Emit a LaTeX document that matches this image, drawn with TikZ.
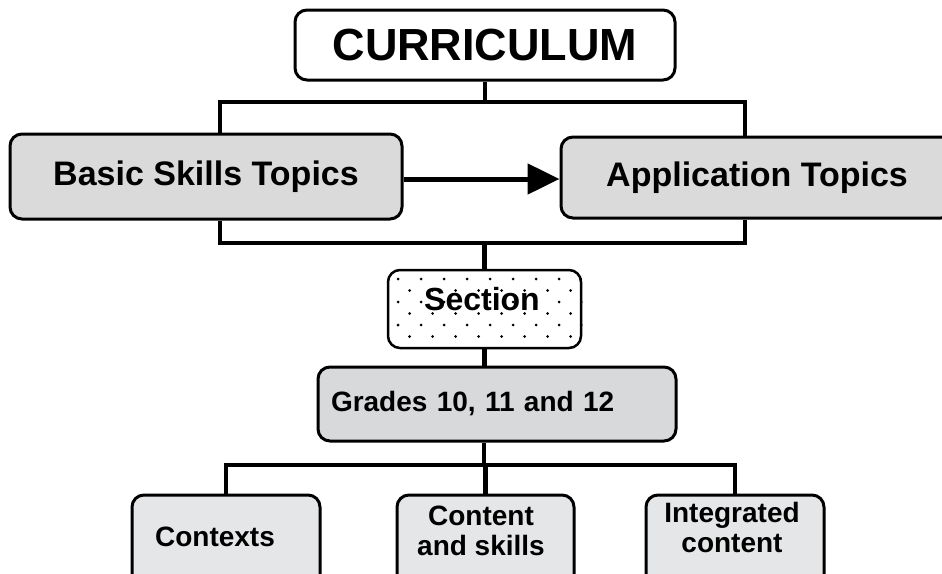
\documentclass[tikz,border=0pt]{standalone}
\usepackage{fontspec}
\setmainfont{Liberation Sans}
\usetikzlibrary{arrows.meta}
\definecolor{topicgray}{RGB}{218,218,218}
\definecolor{gradegray}{RGB}{216,217,219}
\definecolor{leafgray}{RGB}{229,230,231}
\begin{document}
\begin{tikzpicture}[x=1pt,y=-1pt,
    box/.style={draw,rounded corners=12pt,line width=3pt,inner sep=0pt},
    conn/.style={line width=4.5pt},
    txt/.style={font=\bfseries\fontsize{28}{30}\selectfont,align=center,inner sep=0pt}]
    \useasboundingbox (0,0) rectangle (942,573);

    \node[box,fill=white,minimum width=380pt,minimum height=70pt,
        font=\bfseries\fontsize{45}{50}\selectfont] (curr) at (485,45) {CURRICULUM};
    \node[box,fill=topicgray,minimum width=392pt,minimum height=85pt,
        font=\bfseries\fontsize{34}{38}\selectfont] (basic) at (206,176.5) {Basic Skills Topics};
    \node[box,fill=topicgray,minimum width=392pt,minimum height=81pt,
        font=\bfseries\fontsize{34}{38}\selectfont] (app) at (757,177.5) {Application Topics};

    % section box with dots
    \node[box,fill=white,line width=2.5pt,minimum width=193pt,minimum height=78pt] (sec) at (484.5,309) {};
    \begin{scope}
        \clip[rounded corners=12pt] (sec.south west) rectangle (sec.north east);
        \foreach \row in {0,...,5} {
            \pgfmathsetmacro\off{mod(\row,2)*11.5}
            \foreach \col in {0,...,8}
                \fill ({398+\off+23*\col},{279+11.5*\row}) circle (1.5pt);
        }
    \end{scope}
    \node[txt,font=\bfseries\fontsize{32}{36}\selectfont] (sectxt) at (482,299) {Section};

    \node[box,fill=gradegray,minimum height=74pt,text width=332pt,inner xsep=13pt,
        align=left,font=\bfseries\fontsize{28}{30}\selectfont] (grades) at (497,404) {Grades 10, 11 and 12};

    \foreach \name/\x/\w in {ctx/226/188, cas/485.5/177, intg/735/178}
        \node[box,fill=leafgray,minimum width=\w pt,minimum height=95pt] (\name) at (\x,542.5) {};
    \node[txt] (ctxtxt) at (215,537) {Contexts};
    \node[txt] (castxt) at (481,531) {Content\\and skills};
    \node[txt] (intgtxt) at (732,527) {Integrated\\content};

    \coordinate (tl) at (220,102);
    \coordinate (tr) at (745,102);
    \coordinate (bl) at (220,243);
    \coordinate (br) at (745,243);
    \coordinate (hub) at (484,465);

    \draw[conn] (curr.south) -- (curr.south |- tl);
    \draw[conn] (tl |- basic.north) -- (tl) -- (tr) -- (tr |- app.north);
    \draw[conn] (bl |- basic.south) -- (bl) -- (br) -- (br |- app.south);
    \draw[conn] (sec.north |- bl) -- (sec.north);
    \draw[conn] (sec.south) -- (sec.south |- grades.north);
    \draw[conn] (hub |- grades.south) -- (hub);
    \draw[conn] (ctx.north) -- (ctx.north |- hub) -- (intg.north |- hub) -- (intg.north);
    \draw[conn] (cas.north |- hub) -- (cas.north);
    \draw[conn,line width=5pt,-{Triangle[length=32pt,width=30pt]}] (basic.east |- 0,179) -- (app.west |- 0,179);
\end{tikzpicture}
\end{document}
